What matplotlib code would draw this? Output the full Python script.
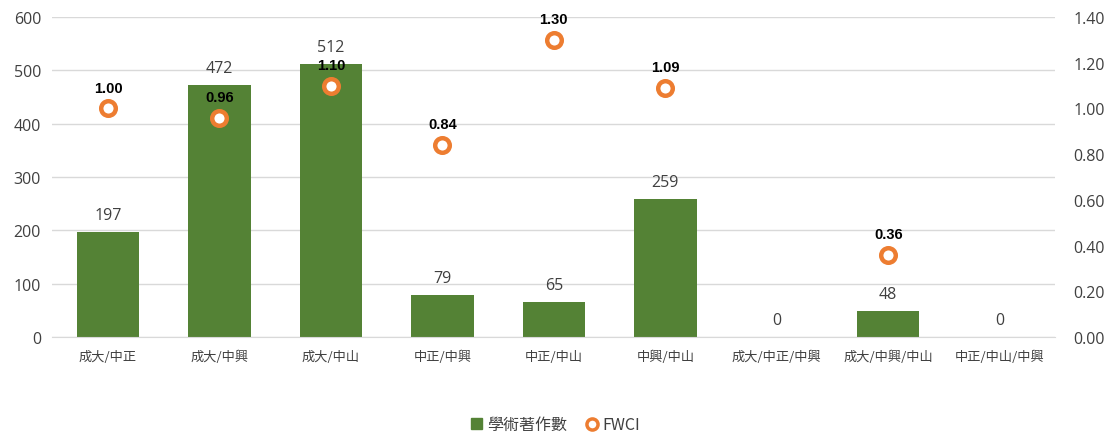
import numpy as np
import matplotlib.pyplot as plt
from matplotlib.lines import Line2D
from matplotlib.patches import Patch

plt.rcParams['font.family'] = ['Noto Sans CJK TC', 'DejaVu Sans']

# 資料
categories = ["成大/中正", "成大/中興", "成大/中山", "中正/中興", "中正/中山",
              "中興/中山", "成大/中正/中興", "成大/中興/中山", "中正/中山/中興"]
papers = [197, 472, 512, 79, 65, 259, 0, 48, 0]
fwci = [1.00, 0.96, 1.10, 0.84, 1.30, 1.09, np.nan, 0.36, np.nan]

green = "#548235"
orange = "#ED7D31"
text_color = "#404040"

fig = plt.figure(figsize=(11.11, 4.39), dpi=100)
ax = fig.add_axes([0.047, 0.230, 0.903, 0.729])
ax2 = ax.twinx()

x = np.arange(len(categories))
ax.bar(x, papers, width=0.56, color=green, zorder=2)
for xi, v in zip(x, papers):
    ax.text(xi, v + 17, str(v), ha="center", va="bottom", fontsize=11.5,
            color=text_color, family=["Open Sans", "DejaVu Sans"])

ax.set_ylim(0, 600)
ax.set_yticks(range(0, 601, 100))
ax.set_xlim(-0.5, len(categories) - 0.5)
ax.set_xticks(x)
ax.set_xticklabels(categories, fontsize=9.5, color=text_color)
ax.grid(axis="y", color="#D9D9D9", linewidth=1, zorder=0)
ax.set_axisbelow(True)
for s in ["top", "right", "left"]:
    ax.spines[s].set_visible(False)
ax.spines["bottom"].set_color("#D9D9D9")
ax.tick_params(axis="x", length=0, pad=9)
ax.tick_params(axis="y", length=0, pad=8, labelsize=11.5, labelcolor=text_color)
for lbl in ax.get_yticklabels():
    lbl.set_family(["Open Sans", "DejaVu Sans"])

ax2.plot(x, fwci, linestyle="none", marker="o", markersize=10.5,
         markerfacecolor="white", markeredgecolor=orange, markeredgewidth=3.2, zorder=3)
for xi, v in zip(x, fwci):
    if not np.isnan(v):
        ax2.text(xi, v + 0.06, f"{v:.2f}", ha="center", va="bottom", fontsize=10.5,
                 fontweight="bold", color="black", family=["Liberation Sans", "DejaVu Sans"])
ax2.set_ylim(0, 1.4)
ax2.set_yticks(np.arange(0, 1.41, 0.2))
ax2.set_yticklabels([f"{t:.2f}" for t in np.arange(0, 1.41, 0.2)])
ax2.tick_params(axis="y", length=0, pad=13, labelsize=11.5, labelcolor=text_color)
for lbl in ax2.get_yticklabels():
    lbl.set_family(["Open Sans", "DejaVu Sans"])
for s in ["top", "right", "left", "bottom"]:
    ax2.spines[s].set_visible(False)

handles = [Patch(color=green, label="學術著作數"),
           Line2D([], [], linestyle="none", marker="o", markersize=8,
                  markerfacecolor="white", markeredgecolor=orange,
                  markeredgewidth=2.5, label="FWCI")]
leg = fig.legend(handles=handles, loc="center", bbox_to_anchor=(0.5, 0.03), ncol=2,
                 frameon=False, fontsize=11.5, handlelength=0.7, handletextpad=0.3,
                 columnspacing=1.2)
for t in leg.get_texts():
    t.set_color(text_color)

fig.savefig("out.png", dpi=100)
